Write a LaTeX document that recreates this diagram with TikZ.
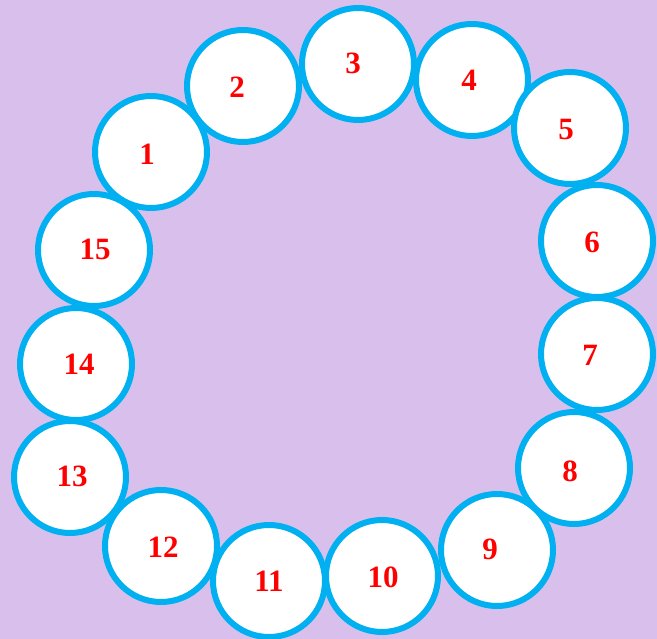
\documentclass[tikz,border=0pt]{standalone}
\usepackage{fontspec}
\setmainfont{Liberation Serif}
\usepackage{xcolor}
\definecolor{lavbg}{RGB}{217,192,236}
\definecolor{ringblue}{RGB}{0,176,240}
\usepackage{tikz}

\begin{document}
\begin{tikzpicture}[x=1pt, y=-1pt,
	ring/.style={circle, draw=ringblue, line width=6pt, fill=white,
	             minimum size=112pt, inner sep=0pt},
	num/.style={text=red, font=\fontsize{31}{31}\selectfont\bfseries, inner sep=0pt}
	]
	\fill[lavbg] (0,0) rectangle (657,639);
	\useasboundingbox (0,0) rectangle (657,639);

	% circles: index / centre / label position
	\foreach \i/\cx/\cy/\lx/\ly in {1/151/152/147/154, 2/243/86/237/87, 3/358/64/353/63,
	    4/472/80/469/80, 5/570/128/566/130, 6/597/241/592/242, 7/597/354/590/355,
	    8/574/468/570/471, 9/497/550/490/549, 10/382/576/383/577, 11/269/581/269/581,
	    12/161/546/163/547, 13/70/477/72/476, 14/76/364/79/364, 15/94/250/95/249}{
		\node[ring] (c\i) at (\cx,\cy) {};
		\node[num] (n\i) at (\lx,\ly) {\i};
	}
\end{tikzpicture}
\end{document}
